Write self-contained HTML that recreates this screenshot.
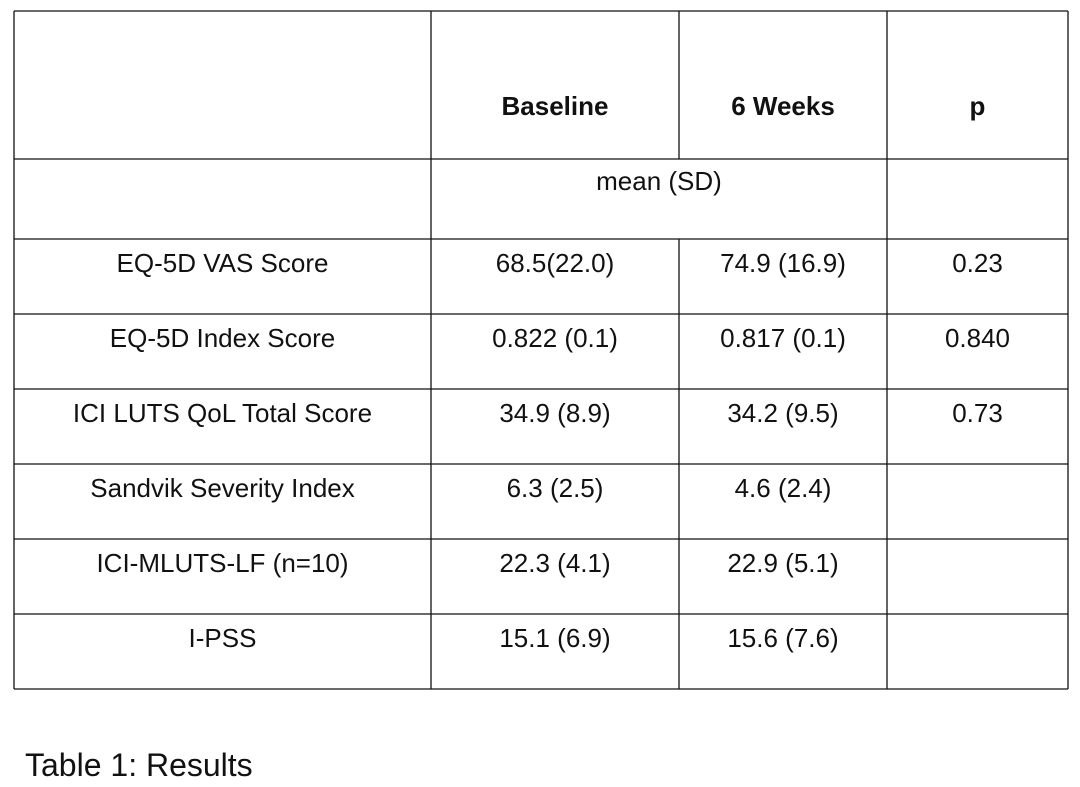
<!DOCTYPE html>
<html><head><meta charset="utf-8"><style>
html,body{margin:0;padding:0;background:#fff;width:1080px;height:787px;overflow:hidden}
svg text{font-family:"Liberation Sans",Arial,sans-serif;fill:#111}
</style></head><body>
<svg width="1080" height="787" xmlns="http://www.w3.org/2000/svg">
<g id="grid" stroke="#111" stroke-width="1.3" fill="none"></g>
<g id="cells"></g>
<text x="25" y="776" font-size="32">Table 1: Results</text>
</svg>
<script>
const colX=[14,431,679,887,1068];
const rowY=[11,159,239,314,389,464,539,614,689];
const headers=["","Baseline","6 Weeks","p"];
const labels=["EQ-5D VAS Score","EQ-5D Index Score","ICI LUTS QoL Total Score","Sandvik Severity Index","ICI-MLUTS-LF (n=10)","I-PSS"];
const baseline=["68.5(22.0)","0.822 (0.1)","34.9 (8.9)","6.3 (2.5)","22.3 (4.1)","15.1 (6.9)"];
const weeks6=["74.9 (16.9)","0.817 (0.1)","34.2 (9.5)","4.6 (2.4)","22.9 (5.1)","15.6 (7.6)"];
const pvals=["0.23","0.840","0.73","","",""];
const NS="http://www.w3.org/2000/svg";
const g=document.getElementById('grid'),c=document.getElementById('cells');
function line(x1,y1,x2,y2){const l=document.createElementNS(NS,'line');l.setAttribute('x1',x1);l.setAttribute('y1',y1);l.setAttribute('x2',x2);l.setAttribute('y2',y2);


g.appendChild(l);}
rowY.forEach(y=>line(colX[0],y,colX[4],y));
colX.forEach((x,i)=>{ if(i==2){line(x,rowY[0],x,rowY[1]);line(x,rowY[2],x,rowY[8]);} else line(x,rowY[0],x,rowY[8]);});
function txt(x,y,s,bold,name){const t=document.createElementNS(NS,'text');t.setAttribute('x',x);t.setAttribute('y',y);t.setAttribute('text-anchor','middle');t.setAttribute('font-size','26');if(bold)t.setAttribute('font-weight','bold');t.textContent=s;


c.appendChild(t);}
const cx=i=>(colX[i]+colX[i+1])/2;
headers.forEach((h,i)=>{if(h)txt(cx(i),115,h,true,'header-'+h.toLowerCase().replace(/\s+/g,'-'));});
txt((colX[1]+colX[3])/2,190,"mean (SD)",false,'mean-sd-label');
labels.forEach((l,r)=>{const y=rowY[r+2]+33;
txt(cx(0),y,l,false,'row-label');
txt(cx(1),y,baseline[r],false,'baseline-value');
txt(cx(2),y,weeks6[r],false,'six-weeks-value');
if(pvals[r])txt(cx(3),y,pvals[r],false,'p-value');});
</script>
</body></html>
